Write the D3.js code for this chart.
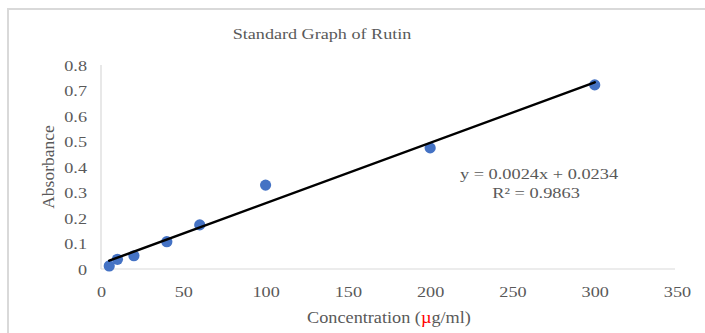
<!DOCTYPE html>
<html>
<head>
<meta charset="utf-8">
<script src="https://cdn.jsdelivr.net/npm/d3@7"></script>
<style>
  body { margin: 0; background: #fff; }
  svg text { font-family: "Liberation Serif", "Times New Roman", serif; fill: #595959; }
</style>
</head>
<body>
<div id="chart-area"></div>
<script>
// data
var conc = [5, 10, 20, 40, 60, 100, 200, 300]
var absorb = [0.012, 0.038, 0.052, 0.107, 0.173, 0.329, 0.475, 0.722]
var xTicks = [0, 50, 100, 150, 200, 250, 300, 350]
var yTicks = [0, 0.1, 0.2, 0.3, 0.4, 0.5, 0.6, 0.7, 0.8]
var eqLines = ["y = 0.0024x + 0.0234", "R² = 0.9863"]

var cw = 705
var ch = 333

var svg = d3.select("#chart-area").append("svg")
    .attr("width", cw)
    .attr("height", ch)

// chart border (top + left visible)
svg.append("path")
    .attr("d", "M8,340 L8,9 L705,9")
    .attr("fill", "none")
    .attr("stroke", "#d9d9d9")
    .attr("stroke-width", 2)

var x = d3.scaleLinear().domain([0, 350]).range([101, 677])
var y = d3.scaleLinear().domain([0, 0.8]).range([269, 65])

// stretched serif text, like the original
function label(px, py, s, size, sx, anchor, rot) {
    var t = svg.append("text")
        .attr("transform", "translate(" + px + "," + py + ")" + (rot ? " rotate(" + rot + ")" : "") + " scale(" + sx + ",1)")
        .attr("font-size", size + "px")
        .attr("text-anchor", anchor)
    return t.text(s)
}

var tickSx = 1.3

var leftAxis = d3.axisLeft(y)
    .tickValues(yTicks)
    .tickSize(0)
    .tickPadding(0)
    .tickFormat(d => d3.format("")(+d.toFixed(1)))

var bottomAxis = d3.axisBottom(x)
    .tickValues(xTicks)
    .tickSize(0)
    .tickPadding(0)

var yAxisGroup = svg.append("g")
    .attr("transform", "translate(101,0)")
    .call(leftAxis)

var xAxisGroup = svg.append("g")
    .attr("transform", "translate(0,269)")
    .call(bottomAxis)

yAxisGroup.select(".domain").remove()
xAxisGroup.select(".domain").remove()
yAxisGroup.attr("font-family", "Liberation Serif")
xAxisGroup.attr("font-family", "Liberation Serif")

yAxisGroup.selectAll("text")
    .attr("font-size", "14px")
    .attr("fill", "#595959")
    .attr("x", null)
    .attr("dy", null)
    .attr("transform", "translate(-14,5) scale(" + tickSx + ",1)")

xAxisGroup.selectAll("text")
    .attr("font-size", "14px")
    .attr("fill", "#595959")
    .attr("y", null)
    .attr("dy", null)
    .attr("transform", "translate(0,28) scale(" + tickSx + ",1)")

// axis lines
svg.append("line")
    .attr("x1", x(0)).attr("x2", x(0))
    .attr("y1", y(0.8)).attr("y2", y(0))
    .attr("stroke", "#d9d9d9").attr("stroke-width", 1.2)

svg.append("line")
    .attr("x1", x(0)).attr("x2", x(350) - 2)
    .attr("y1", y(0)).attr("y2", y(0))
    .attr("stroke", "#d9d9d9").attr("stroke-width", 1.2)

// dots
var pts = conc.map((c, i) => ({c: c, a: absorb[i]}))

svg.selectAll("circle")
    .data(pts)
    .enter()
    .append("circle")
    .attr("cx", d => x(d.c))
    .attr("cy", d => y(d.a))
    .attr("r", 5.6)
    .attr("fill", "#4472C4")

// least squares trendline, as the spreadsheet draws it
var mx = d3.mean(conc), my = d3.mean(absorb)
var sxy = d3.sum(pts, d => (d.c - mx) * (d.a - my))
var sxx = d3.sum(conc, c => (c - mx) * (c - mx))
var slope = sxy / sxx
var intercept = my - slope * mx

var line = d3.line().x(d => x(d)).y(d => y(slope * d + intercept))
svg.append("path")
    .attr("d", line(d3.extent(conc)))
    .attr("fill", "none")
    .attr("stroke", "#000")
    .attr("stroke-width", 2.5)
    .attr("stroke-linecap", "round")

// titles
label(322, 38.5, "Standard Graph of Rutin", 14.5, 1.25, "middle")
label(54, 167, "Absorbance", 17.5, 1, "middle", -90)

var xt = label(389, 323, "", 16, 1.14, "middle")
xt.append("tspan").text("Concentration (")
xt.append("tspan").style("fill", "#ff0000").text("µ")
xt.append("tspan").text("g/ml)")

// regression equation
label(539, 178.5, eqLines[0], 14.8, 1.24, "middle")
label(536, 198.3, eqLines[1], 14.8, 1.24, "middle")
</script>
</body>
</html>
